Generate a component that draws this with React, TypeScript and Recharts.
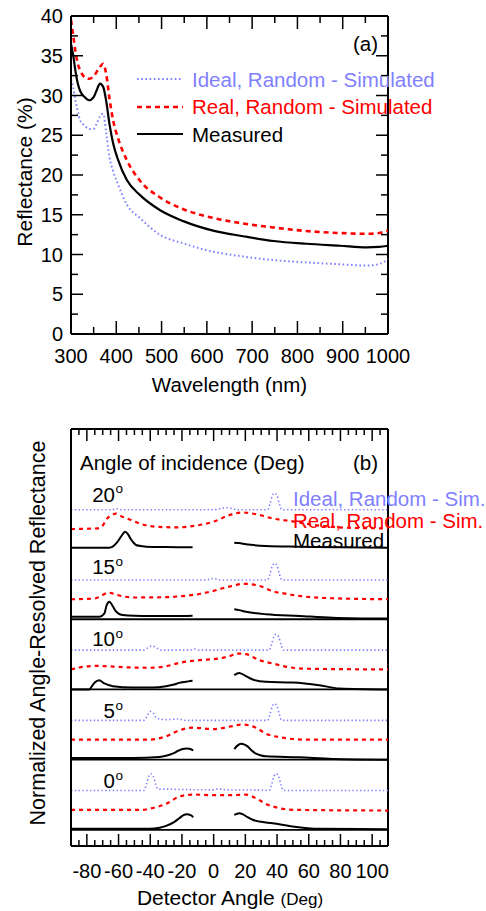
import React from 'react';
import { LineChart, Line, XAxis, YAxis, ReferenceLine } from 'recharts';

const FONT = '"Liberation Sans", Arial, Helvetica, sans-serif';
const BLUE = '#8080ff';
const RED = '#ff0000';
const BLACK = '#000000';

// ---------- Panel (a) data ----------
const wavelengths = [300, 305, 310, 315, 320, 330, 340, 350, 357, 364, 371, 378, 385, 393, 404, 423, 452, 496, 548, 614, 680, 747, 820, 894, 953, 980, 1000];
const measuredA = [36.5, 35.0, 33.0, 31.5, 30.6, 29.8, 29.4, 29.8, 30.7, 31.5, 31.1, 29.2, 26.4, 24.0, 21.9, 19.4, 17.5, 15.6, 14.2, 13.0, 12.3, 11.7, 11.35, 11.1, 10.9, 10.95, 11.1];
const realA = [39.5, 37.5, 35.5, 34.0, 33.2, 32.3, 32.1, 32.4, 33.0, 33.6, 34.0, 32.6, 29.6, 26.9, 24.6, 21.9, 19.3, 17.2, 15.7, 14.6, 13.9, 13.4, 12.95, 12.7, 12.6, 12.7, 13.0];
const idealA = [32.0, 31.0, 29.3, 28.0, 26.9, 26.2, 25.8, 25.8, 26.5, 27.4, 27.7, 25.2, 22.2, 20.5, 18.8, 16.3, 14.6, 12.5, 11.4, 10.35, 9.75, 9.3, 9.0, 8.77, 8.6, 8.8, 9.4];
const wlTicks = [300, 350, 400, 450, 500, 550, 600, 650, 700, 750, 800, 850, 900, 950, 1000];
const reflTicks = [0, 2.5, 5, 7.5, 10, 12.5, 15, 17.5, 20, 22.5, 25, 27.5, 30, 32.5, 35, 37.5, 40];

// ---------- Panel (b) data: [detector angle, normalized value] ----------
const ideal0 = [[-90, 0], [-44, 0], [-42.5, 0.08], [-41, 0.2], [-39.5, 0.24], [-38, 0.2], [-36.5, 0.08], [-35, 0.02], [-30, 0.02], [-20, 0.015], [0, 0.01], [3, 0.025], [8, 0.01], [30, 0.005], [35, 0], [36.5, 0.08], [38, 0.2], [39.5, 0.24], [41, 0.2], [42.5, 0.08], [44, 0], [110, 0]];
const ideal5 = [[-90, 0], [-44, 0], [-42, 0.06], [-40, 0.127], [-38, 0.1], [-36, 0.03], [-30, 0.01], [-22, 0.02], [-18, 0], [34, 0], [35.5, 0.08], [37, 0.2], [38.5, 0.236], [40, 0.2], [41.5, 0.08], [43, 0], [110, 0]];
const ideal10 = [[-90, 0], [-44, 0], [-41, 0.04], [-39, 0.06], [-36, 0.03], [-33, 0], [-15, 0], [-12, 0.015], [-9, 0], [35, 0], [36.5, 0.08], [38, 0.19], [39.3, 0.226], [41, 0.19], [42.5, 0.08], [44, 0], [110, 0]];
const ideal15 = [[-90, 0], [-5, 0], [0, 0.02], [4, 0], [34, 0], [35.5, 0.08], [37, 0.2], [38.5, 0.236], [40, 0.2], [41.5, 0.08], [43, 0], [110, 0]];
const ideal20 = [[-90, 0], [-64, 0], [-61, 0.015], [-58, 0], [0, 0], [5, 0.02], [8, 0.03], [11, 0.02], [15, 0], [34, 0], [35.5, 0.08], [37, 0.2], [38.5, 0.235], [40, 0.2], [41.5, 0.08], [43, 0], [110, 0]];

const real0 = [[-90, 0], [-45, 0], [-40, 0.02], [-30, 0.085], [-21.7, 0.189], [-13.3, 0.217], [-0.6, 0.21], [12, 0.21], [20.4, 0.217], [26.7, 0.165], [33, 0.085], [41.4, 0.024], [50, 0], [110, -0.01]];
const real5 = [[-90, 0], [-40.6, 0], [-30, 0.047], [-21.7, 0.132], [-13.3, 0.17], [-0.6, 0.151], [12, 0.193], [18, 0.215], [22, 0.205], [26.7, 0.17], [33, 0.085], [43.5, 0.028], [58, 0], [110, 0]];
const real10 = [[-90, 0], [-84.8, 0.028], [-74, 0.05], [-55, 0.03], [-41, 0.024], [-30, 0.045], [-21.7, 0.094], [-9, 0.132], [3.5, 0.156], [10, 0.19], [15.1, 0.226], [20.4, 0.217], [28.8, 0.132], [37.2, 0.085], [48, 0.03], [60, 0.01], [110, 0]];
const real15 = [[-90, 0], [-75, 0.01], [-70, 0.06], [-66.5, 0.094], [-62, 0.07], [-57, 0.04], [-50, 0.025], [-30, 0.03], [-20, 0.045], [-9, 0.075], [0, 0.12], [5.7, 0.156], [12, 0.19], [19, 0.22], [28.8, 0.19], [38, 0.11], [45, 0.08], [54, 0.047], [75, 0.014], [110, 0]];
const real20 = [[-90, 0], [-73, 0.01], [-70, 0.05], [-68, 0.127], [-65, 0.19], [-61.6, 0.22], [-58, 0.18], [-53, 0.137], [-45, 0.066], [-36.4, 0.033], [-23.8, 0.024], [-9, 0.057], [1.5, 0.117], [9.8, 0.198], [18.3, 0.236], [26.7, 0.212], [37.2, 0.151], [49.8, 0.11], [60, 0.07], [75, 0.03], [90, 0.015], [110, 0.01]];

const meas0 = [[-90, 0.014], [-40.6, 0.014], [-34, 0.03], [-30, 0.057], [-25, 0.11], [-21.7, 0.165], [-19, 0.21], [-17, 0.222], [-14.5, 0.21], [-12.9, 0.18], [0, null], [13, 0.212], [16.2, 0.236], [18.5, 0.22], [21.4, 0.18], [25, 0.14], [28.8, 0.118], [37.2, 0.094], [49.8, 0.047], [66.6, 0.014], [110, 0.01]];
const meas5 = [[-90, 0.024], [-51, 0.024], [-34.3, 0.038], [-30, 0.055], [-25.9, 0.085], [-22, 0.13], [-19.6, 0.151], [-17, 0.16], [-15.4, 0.156], [-12.9, 0.132], [0, null], [13, 0.151], [15, 0.2], [17.2, 0.226], [19.5, 0.215], [21.4, 0.189], [24, 0.13], [26.7, 0.085], [30, 0.06], [33, 0.047], [54, 0.033], [75, 0.01], [110, 0]];
const meas10 = [[-90, 0], [-78.5, 0], [-77, 0.04], [-75, 0.1], [-72.2, 0.132], [-69, 0.085], [-66, 0.06], [-63.7, 0.047], [-51, 0.028], [-38.5, 0.028], [-30, 0.047], [-25, 0.07], [-21.7, 0.094], [-16, 0.115], [-13.3, 0.123], [0, null], [13, 0.203], [16.2, 0.236], [19.3, 0.203], [24.6, 0.142], [33, 0.108], [49.8, 0.099], [66.6, 0.061], [79.2, 0.014], [110, 0]];
const meas15 = [[-90, 0.037], [-72, 0.037], [-69, 0.08], [-67.5, 0.2], [-65.8, 0.25], [-64, 0.2], [-62, 0.122], [-60, 0.08], [-57.4, 0.061], [-50, 0.05], [-40.6, 0.047], [-25, 0.045], [-13.3, 0.05], [0, null], [13, 0.142], [16, 0.13], [20.4, 0.108], [33, 0.071], [54, 0.047], [75, 0.023], [110, 0.01]];
const meas20 = [[-90, 0.02], [-66, 0.02], [-63.7, 0.034], [-61.5, 0.08], [-59.5, 0.139], [-57.5, 0.21], [-55.8, 0.247], [-54, 0.21], [-52.2, 0.139], [-50.5, 0.09], [-49, 0.058], [-45, 0.04], [-42.7, 0.034], [-30, 0.028], [-13.3, 0.025], [0, null], [13, 0.091], [16, 0.085], [20.4, 0.068], [33, 0.044], [54, 0.034], [80, 0.025], [110, 0.02]];

const incidenceAngles = [0, 5, 10, 15, 20];
const idealSets = [ideal0, ideal5, ideal10, ideal15, ideal20];
const realSets = [real0, real5, real10, real15, real20];
const measSets = [meas0, meas5, meas10, meas15, meas20];
const detTicks = Array.from({ length: 41 }, (_, i) => -90 + i * 5);

// stacking offsets (display layout of the waterfall)
const GROUP_BASE = 0.23;
const REAL_OFF = 0.285;
const IDEAL_OFF = 0.56;
const groupBase = (i: number) => GROUP_BASE + i;
const stack = (pts: (number | null)[][], base: number) =>
  pts.map(([x, y]) => ({ x, y: y === null ? null : base + (y as number) }));

const dataA = wavelengths.map((w, i) => ({ w, ideal: idealA[i], real: realA[i], measured: measuredA[i] }));

// plot-box sizes (layout)
const PLOT_W = 317;
const PLOT_H_A = 318;
const PLOT_H_B = 417;

// ---------- tick renderers (draw inward ticks on both opposite frame sides) ----------
const tickText = { fontSize: 20, fontFamily: FONT, fill: BLACK } as const;

const bottomTick = (isMajor: (v: number) => boolean, majorLen: number, minorLen: number, labelDy: number, plotH: number) => (props: any) => {
  const { x, y, payload } = props;
  const v = payload.value;
  const major = isMajor(v);
  const len = major ? majorLen : minorLen;
  return (
    <g>
      <line x1={x} x2={x} y1={y} y2={y - len} stroke={BLACK} strokeWidth={1.5} />
      <line x1={x} x2={x} y1={y - plotH} y2={y - plotH + len} stroke={BLACK} strokeWidth={1.5} />
      {major && (
        <text x={x} y={y + labelDy} textAnchor="middle" {...tickText}>
          {v}
        </text>
      )}
    </g>
  );
};
const leftTick = (isMajor: (v: number) => boolean, majorLen: number, minorLen: number) => (props: any) => {
  const { x, y, payload } = props;
  const v = payload.value;
  const major = isMajor(v);
  const len = major ? majorLen : minorLen;
  return (
    <g>
      <line x1={x} x2={x + len} y1={y} y2={y} stroke={BLACK} strokeWidth={1.5} />
      <line x1={x + PLOT_W} x2={x + PLOT_W - len} y1={y} y2={y} stroke={BLACK} strokeWidth={1.5} />
      {major && (
        <text x={x - 8} y={y + 7} textAnchor="end" {...tickText}>
          {v}
        </text>
      )}
    </g>
  );
};

const maj100 = (v: number) => v % 100 === 0;
const maj5 = (v: number) => v % 5 === 0;
const maj20 = (v: number) => v % 20 === 0;
const axisLine = { stroke: BLACK, strokeWidth: 2 };

function PanelA() {
  return (
    <LineChart width={486} height={400} data={dataA} margin={{ top: 16, right: 98, bottom: 26, left: 11 }}>
      <XAxis dataKey="w" type="number" domain={[300, 1000]} ticks={wlTicks} interval={0} allowDataOverflow
        height={40} tickSize={0} tickMargin={0} axisLine={axisLine} tickLine={false}
        tick={bottomTick(maj100, 13, 7, 29, PLOT_H_A)} />
      <YAxis type="number" domain={[0, 40]} ticks={reflTicks} interval={0} allowDataOverflow width={60}
        tickSize={0} tickMargin={0} axisLine={axisLine} tickLine={false} tick={leftTick(maj5, 12, 7)} />
      <ReferenceLine y={40} stroke={BLACK} strokeWidth={2} />
      <ReferenceLine x={1000} stroke={BLACK} strokeWidth={2} />
      <Line dataKey="ideal" type="monotone" stroke={BLUE} strokeWidth={2} strokeDasharray="1.6 2.6" dot={false} activeDot={false} isAnimationActive={false} />
      <Line dataKey="real" type="monotone" stroke={RED} strokeWidth={2.6} strokeDasharray="5 4" dot={false} activeDot={false} isAnimationActive={false} />
      <Line dataKey="measured" type="monotone" stroke={BLACK} strokeWidth={2.2} dot={false} activeDot={false} isAnimationActive={false} />
    </LineChart>
  );
}

function PanelB() {
  return (
    <LineChart width={486} height={511} margin={{ top: 29, right: 98, bottom: 25, left: 11 }}>
      <XAxis dataKey="x" type="number" domain={[-90, 110]} ticks={detTicks} interval={0} allowDataOverflow
        height={40} tickSize={0} tickMargin={0} axisLine={axisLine} tickLine={false}
        tick={bottomTick(maj20, 12, 6, 32, PLOT_H_B)} />
      <YAxis type="number" domain={[0, 5.94]} allowDataOverflow width={60} axisLine={axisLine} tick={false} tickLine={false} />
      <ReferenceLine y={5.94} stroke={BLACK} strokeWidth={2} />
      <ReferenceLine x={110} stroke={BLACK} strokeWidth={2} />
      {incidenceAngles.slice(0, 4).map((a, i) => (
        <ReferenceLine key={'sep' + a} y={groupBase(i)} stroke={BLACK} strokeWidth={1.8} />
      ))}
      {incidenceAngles.map((a, i) => (
        <Line key={'ideal' + a} data={stack(idealSets[i], groupBase(i) + IDEAL_OFF)} dataKey="y" type="monotone"
          stroke={BLUE} strokeWidth={1.6} strokeDasharray="1.4 2.4" dot={false} activeDot={false} isAnimationActive={false} />
      ))}
      {incidenceAngles.map((a, i) => (
        <Line key={'real' + a} data={stack(realSets[i], groupBase(i) + REAL_OFF)} dataKey="y" type="monotone"
          stroke={RED} strokeWidth={2.2} strokeDasharray="4 4" dot={false} activeDot={false} isAnimationActive={false} />
      ))}
      {incidenceAngles.map((a, i) => (
        <Line key={'meas' + a} data={stack(measSets[i], groupBase(i))} dataKey="y" type="monotone"
          stroke={BLACK} strokeWidth={2} dot={false} activeDot={false} isAnimationActive={false} />
      ))}
    </LineChart>
  );
}

const angleLabelY = [788.3, 718.3, 646, 574, 501.7];

export default function App() {
  const txt = { fontFamily: FONT, fill: BLACK } as const;
  return (
    <div style={{ position: 'absolute', left: 0, top: 0, width: 486, height: 911, background: '#fff', overflow: 'hidden' }}>
      <div style={{ position: 'absolute', left: 0, top: 0 }}>
        <PanelA />
      </div>
      <div style={{ position: 'absolute', left: 0, top: 400 }}>
        <PanelB />
      </div>
      <svg width={486} height={911} style={{ position: 'absolute', left: 0, top: 0, pointerEvents: 'none' }}>
        {/* Panel (a) annotations */}
        <text x={353} y={51} fontSize={20.5} {...txt}>(a)</text>
        <line x1={137} x2={183} y1={79} y2={79} stroke={BLUE} strokeWidth={2} strokeDasharray="1.6 2.6" />
        <line x1={137} x2={183} y1={107} y2={107} stroke={RED} strokeWidth={2.6} strokeDasharray="5 4" />
        <line x1={137} x2={183} y1={134} y2={134} stroke={BLACK} strokeWidth={2.2} />
        <text x={192} y={86.5} fontSize={20.5} fontFamily={FONT} fill={BLUE}>Ideal, Random - Simulated</text>
        <text x={192} y={113.5} fontSize={20.5} fontFamily={FONT} fill={RED}>Real, Random - Simulated</text>
        <text x={192} y={141.5} fontSize={20.5} {...txt}>Measured</text>
        <text x={229.5} y={392} fontSize={20.5} textAnchor="middle" {...txt}>Wavelength (nm)</text>
        <text transform="translate(32,172) rotate(-90)" fontSize={21} textAnchor="middle" {...txt}>Reflectance (%)</text>

        {/* Panel (b) annotations */}
        <text x={80} y={470} fontSize={20.5} {...txt}>Angle of incidence (Deg)</text>
        <text x={353} y={470} fontSize={20.5} {...txt}>(b)</text>
        {incidenceAngles.map((a, i) => (
          <text key={'lab' + a} x={115} y={angleLabelY[i]} fontSize={20.5} textAnchor="end" {...txt}>
            {a}
          </text>
        ))}
        {incidenceAngles.map((a, i) => (
          <text key={'deg' + a} x={115.5} y={angleLabelY[i] - 8.5} fontSize={13.5} {...txt}>o</text>
        ))}
        <text x={293} y={506} fontSize={20.5} fontFamily={FONT} fill={BLUE}>Ideal, Random - Sim.</text>
        <text x={293} y={527.5} fontSize={20.5} fontFamily={FONT} fill={RED}>Real, Random - Sim.</text>
        <text x={293} y={547.5} fontSize={20.5} {...txt}>Measured</text>
        <text x={230} y={905} textAnchor="middle" fontSize={21} {...txt}>
          Detector Angle <tspan fontSize={17}>(Deg)</tspan>
        </text>
        <text transform="translate(44.5,633) rotate(-90)" fontSize={21.5} textAnchor="middle" {...txt}>
          Normalized Angle-Resolved Reflectance
        </text>
      </svg>
    </div>
  );
}
